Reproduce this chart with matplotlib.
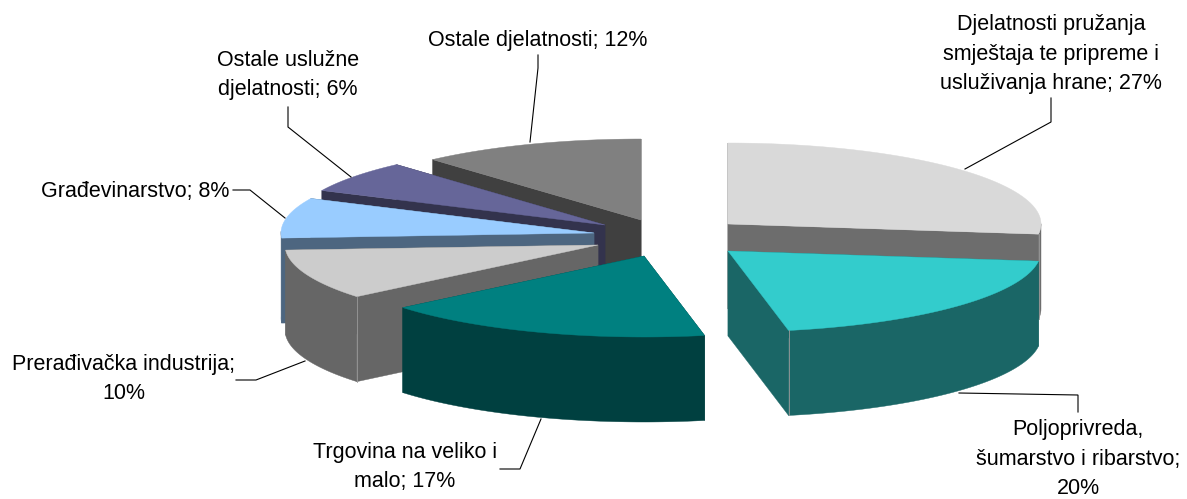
import numpy as np
import matplotlib
matplotlib.use("Agg")
import matplotlib.pyplot as plt
from matplotlib.patches import Polygon

plt.rcParams['font.family'] = ['Liberation Sans', 'DejaVu Sans']

# shares in %, clockwise from 12 o'clock
shares = [27, 19.9, 17.1, 10, 8, 6.4, 11.6]
top_colors = ['#d9d9d9', '#33cccc', '#008080', '#cccccc', '#99ccff', '#666699', '#808080']
side_colors = ['#6d6d6d', '#1a6666', '#004040', '#666666', '#4d6680', '#33334d', '#404040']

# apex of each slice in pixels (the explosion), and painting order back to front
apex_x = [728, 728, 644, 598, 594, 605, 641]
apex_y = [224, 251, 256, 245, 233, 225, 220]
draw_order = [6, 5, 4, 3, 2, 0, 1]

rx = 313
ry = 81
depth = 85

labels = ["Djelatnosti pružanja\nsmještaja te pripreme i\nusluživanja hrane; 27%",
          "Poljoprivreda,\nšumarstvo i ribarstvo;\n20%",
          "Trgovina na veliko i\nmalo; 17%",
          "Prerađivačka industrija;\n10%",
          "Građevinarstvo; 8%",
          "Ostale uslužne\ndjelatnosti; 6%",
          "Ostale djelatnosti; 12%"]
label_x = [1051, 1078, 405, 124, 135, 288, 538]
label_y = [54, 459, 467, 379, 191, 75, 40]
leader_x = [[1051, 1051, 965], [959, 1078, 1078], [541, 520, 500], [305, 256, 236],
            [285, 250, 233], [351, 288, 288], [530, 538, 538]]
leader_y = [[98, 122, 169], [393, 395, 412], [419, 469, 469], [361, 380, 380],
            [218, 190, 190], [177, 127, 107], [142, 68, 55]]


def side(xs, ys, color):
    # one wall: the line xs, ys pulled down by the depth
    pts = np.r_[np.c_[xs, ys], np.c_[xs[::-1], np.array(ys[::-1]) + depth]]
    ax.add_patch(Polygon(pts, closed=True, fc=color, ec=color, lw=0.3))


fig = plt.figure(figsize=(11.87, 4.99), dpi=100)
ax = fig.add_axes([0, 0, 1, 1])
ax.set_xlim(0, 1187)
ax.set_ylim(499, 0)
ax.axis('off')

edges = np.cumsum([0] + shares) / sum(shares) * 2 * np.pi

for i in draw_order:
    cx, cy = apex_x[i], apex_y[i]
    t = np.linspace(edges[i], edges[i + 1], 80)
    x = cx + rx * np.sin(t)
    y = cy - ry * np.cos(t)
    side([cx, x[0]], [cy, y[0]], side_colors[i])
    side([cx, x[-1]], [cy, y[-1]], side_colors[i])
    front = np.cos(t) <= 0.02
    if front.any():
        side(x[front], y[front], side_colors[i])
    ax.add_patch(Polygon(np.r_[[[cx, cy]], np.c_[x, y]], closed=True,
                         fc=top_colors[i], ec=top_colors[i], lw=0.3))
    # thin light line on the outer corner of the walls
    if i in (0, 1):
        ax.plot([x[-1], x[-1]], [y[-1], y[-1] + depth], color='#9a9a9a', lw=0.6)
    if i == 3:
        ax.plot([x[0], x[0]], [y[0], y[0] + depth], color='#9a9a9a', lw=0.6)

for i in range(len(labels)):
    ax.plot(leader_x[i], leader_y[i], color='black', lw=0.8, solid_joinstyle='miter')
    ax.text(label_x[i], label_y[i], labels[i], ha='center', va='center', fontsize=15.5,
            color='black', linespacing=1.55)

fig.savefig('out.png', dpi=100)
